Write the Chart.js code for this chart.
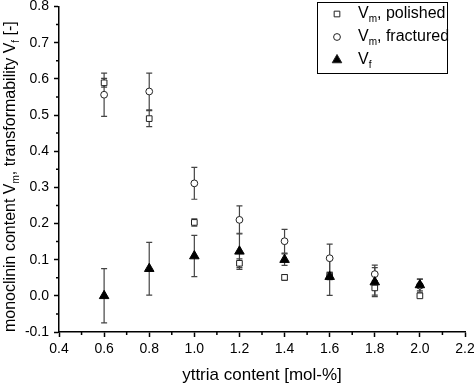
<!DOCTYPE html>
<html>
<head>
<meta charset="utf-8">
<script src="https://cdn.jsdelivr.net/npm/chart.js@4/dist/chart.umd.min.js"></script>
<style>
  html, body { margin: 0; padding: 0; background: #fff; }
  canvas { display: block; }
</style>
</head>
<body>
<canvas id="chart" width="474" height="384"></canvas>
<script>
// yttria content [mol-%]
const yttria = [0.6, 0.8, 1.0, 1.2, 1.4, 1.6, 1.8, 2.0];

// monoclinic content, polished surface
const vmPolished    = [0.589, 0.490, 0.203, 0.090, 0.051, 0.055, 0.022, 0.000];
const vmPolishedErr = [0.012, 0.022, 0.010, 0.012, 0.008, 0.010, 0.020, 0.000];

// monoclinic content, fractured surface
const vmFractured    = [0.556, 0.565, 0.311, 0.210, 0.151, 0.104, 0.060, 0.028];
const vmFracturedErr = [0.060, 0.051, 0.044, 0.039, 0.033, 0.039, 0.025, 0.018];

// transformability
const vf    = [0.000, 0.075, 0.110, 0.123, 0.100, 0.053, 0.038, 0.030];
const vfErr = [0.075, 0.073, 0.057, 0.050, 0.016, 0.052, 0.040, 0.016];

const xTicks = [0.4, 0.6, 0.8, 1.0, 1.2, 1.4, 1.6, 1.8, 2.0, 2.2];
const yTicks = [-0.1, 0.0, 0.1, 0.2, 0.3, 0.4, 0.5, 0.6, 0.7, 0.8];

const FONT = 'Arial, "Liberation Sans", sans-serif';

const pts = vals => yttria.map((x, i) => ({ x: x, y: vals[i] }));

// error bars, drawn under the markers
const errorBars = {
  id: 'errorBars',
  beforeDatasetsDraw(chart) {
    const { ctx, scales: { x, y } } = chart;
    ctx.save();
    ctx.strokeStyle = '#444';
    ctx.lineWidth = 1.2;
    chart.data.datasets.forEach(ds => {
      ds.data.forEach((p, i) => {
        const e = ds.errors[i];
        if (!e) return;
        const px = x.getPixelForValue(p.x);
        const top = y.getPixelForValue(p.y + e);
        const bot = y.getPixelForValue(p.y - e);
        ctx.beginPath();
        ctx.moveTo(px, top); ctx.lineTo(px, bot);
        ctx.moveTo(px - 3, top); ctx.lineTo(px + 3, top);
        ctx.moveTo(px - 3, bot); ctx.lineTo(px + 3, bot);
        ctx.stroke();
      });
    });
    ctx.restore();
  }
};

// minor ticks halfway between the major ones
const minorTicks = {
  id: 'minorTicks',
  afterDraw(chart) {
    const { ctx, scales: { x, y }, chartArea } = chart;
    ctx.save();
    ctx.strokeStyle = '#000';
    ctx.lineWidth = 1.5;
    ctx.beginPath();
    for (let i = 0; i < xTicks.length - 1; i++) {
      const px = x.getPixelForValue((xTicks[i] + xTicks[i + 1]) / 2);
      ctx.moveTo(px, chartArea.bottom); ctx.lineTo(px, chartArea.bottom + 3);
    }
    for (let i = 0; i < yTicks.length - 1; i++) {
      const py = y.getPixelForValue((yTicks[i] + yTicks[i + 1]) / 2);
      ctx.moveTo(chartArea.left, py); ctx.lineTo(chartArea.left - 3, py);
    }
    ctx.stroke();
    ctx.restore();
  }
};

// text with subscripts: parts = [[text, isSub], ...]
function drawRich(ctx, parts, x, y, size, subSize, subDrop) {
  let cx = x;
  parts.forEach(([t, sub]) => {
    ctx.font = (sub ? subSize : size) + 'px ' + FONT;
    ctx.fillText(t, cx, sub ? y + subDrop : y);
    cx += ctx.measureText(t).width;
  });
  return cx - x;
}

const yTitle = {
  id: 'yTitle',
  afterDraw(chart) {
    const ctx = chart.ctx;
    ctx.save();
    ctx.fillStyle = '#000';
    ctx.textBaseline = 'alphabetic';
    ctx.textAlign = 'left';
    ctx.translate(15, 332);
    ctx.rotate(-Math.PI / 2);
    drawRich(ctx, [
      ['monoclinin content V', false], ['m', true],
      [', transformability V', false], ['f', true], [' [-]', false]
    ], 0, 0, 16, 10, 4);
    ctx.restore();
  }
};

const legendBox = {
  id: 'legendBox',
  afterDraw(chart) {
    const ctx = chart.ctx;
    const items = [
      { style: 'rect', radius: 4, fill: '#fff', sub: 'm', rest: ', polished' },
      { style: 'circle', radius: 3.4, fill: '#fff', sub: 'm', rest: ', fractured' },
      { style: 'triangle', radius: 5.5, fill: '#000', sub: 'f', rest: '' }
    ];
    ctx.save();
    ctx.fillStyle = '#fff';
    ctx.fillRect(317.5, 2.5, 130, 71);
    ctx.strokeStyle = '#000';
    ctx.lineWidth = 1;
    ctx.strokeRect(317.5, 2.5, 130, 71);
    items.forEach((it, i) => {
      const cy = 14 + i * 23;
      ctx.fillStyle = it.fill;
      ctx.strokeStyle = '#222';
      ctx.lineWidth = 1;
      Chart.helpers.drawPoint(ctx, { pointStyle: it.style, radius: it.radius, borderWidth: 1, rotation: 0 }, 337, cy);
      ctx.fillStyle = '#000';
      ctx.textBaseline = 'middle';
      ctx.textAlign = 'left';
      const parts = [['V', false], [it.sub, true]];
      if (it.rest) parts.push([it.rest, false]);
      drawRich(ctx, parts, 358, cy, 16, 10, 5);
    });
    ctx.restore();
  }
};

const tickFont = { family: FONT, size: 14 };

new Chart(document.getElementById('chart'), {
  type: 'scatter',
  data: {
    datasets: [
      {
        label: 'Vm, polished', data: pts(vmPolished), errors: vmPolishedErr,
        pointStyle: 'rect', pointRadius: 4, borderColor: '#222', backgroundColor: '#fff',
        borderWidth: 1, order: 2
      },
      {
        label: 'Vm, fractured', data: pts(vmFractured), errors: vmFracturedErr,
        pointStyle: 'circle', pointRadius: 3.4, borderColor: '#222', backgroundColor: '#fff',
        borderWidth: 1, order: 3
      },
      {
        label: 'Vf', data: pts(vf), errors: vfErr,
        pointStyle: 'triangle', pointRadius: 5.5, borderColor: '#000', backgroundColor: '#000',
        borderWidth: 1, order: 1
      }
    ]
  },
  options: {
    responsive: false,
    animation: false,
    layout: { padding: { top: 6, right: 9, left: 0, bottom: 0 } },
    plugins: { legend: { display: false }, tooltip: { enabled: false } },
    scales: {
      x: {
        type: 'linear', min: 0.4, max: 2.2,
        afterBuildTicks: s => { s.ticks = xTicks.map(v => ({ value: v })); },
        ticks: { callback: v => v.toFixed(1), font: tickFont, color: '#000', padding: 4, maxRotation: 0, autoSkip: false },
        grid: { drawOnChartArea: false, tickLength: 5, tickColor: '#000', tickWidth: 1.5 },
        border: { color: '#000', width: 1.5 },
        title: { display: true, text: 'yttria content [mol-%]', color: '#000', font: { family: FONT, size: 17, lineHeight: 1 }, padding: 0 },
        afterFit: s => { s.height = 52; s.paddingLeft = 0; s.paddingRight = 0; }
      },
      y: {
        type: 'linear', min: -0.1, max: 0.8,
        afterBuildTicks: s => { s.ticks = yTicks.map(v => ({ value: v })); },
        ticks: { callback: v => v.toFixed(1), font: tickFont, color: '#000', padding: 5, autoSkip: false },
        grid: { drawOnChartArea: false, tickLength: 5, tickColor: '#000', tickWidth: 1.5 },
        border: { color: '#000', width: 1.5 },
        afterFit: s => { s.width = 59; s.paddingTop = 0; s.paddingBottom = 0; }
      }
    }
  },
  plugins: [errorBars, minorTicks, yTitle, legendBox]
});
</script>
</body>
</html>
